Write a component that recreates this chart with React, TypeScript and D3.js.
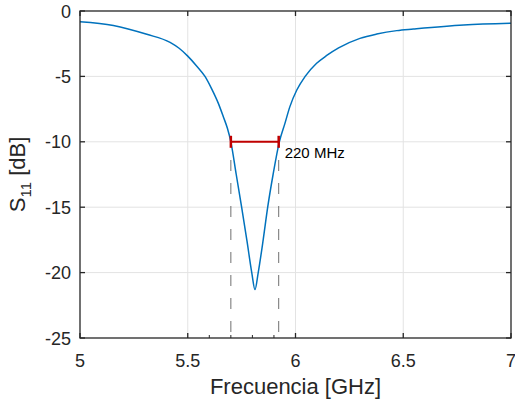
import * as d3 from "d3";

const freq = [
  5.0, 5.155, 5.31, 5.418, 5.46, 5.5, 5.541, 5.58, 5.611, 5.642, 5.665, 5.684,
  5.7, 5.725, 5.75, 5.775, 5.797, 5.812, 5.827, 5.85, 5.871, 5.896, 5.925,
  5.951, 5.974, 6.006, 6.044, 6.098, 6.145, 6.2, 6.299, 6.377, 6.47, 6.547,
  6.78, 7.0,
];
const s11 = [
  -0.82, -1.1, -1.78, -2.4, -2.85, -3.45, -4.2, -5.0, -5.95, -7.06, -8.08,
  -8.97, -10, -12.5, -15, -17.6, -20, -21.3, -20, -17.5, -15, -12.5, -10,
  -8.59, -7.31, -6.04, -5.02, -4.0, -3.4, -2.82, -2.09, -1.76, -1.5, -1.38,
  -1.07, -0.94,
];

const xTicks = [5, 5.5, 6, 6.5, 7];
const xTickLabels = ["5", "5.5", "6", "6.5", "7"];
const xMinor = [5.6, 5.7, 5.8, 5.9];
const yTicks = [0, -5, -10, -15, -20, -25];
const yTickLabels = ["0", "-5", "-10", "-15", "-20", "-25"];

// bandwidth marker at -10 dB
const bwLow = 5.7;
const bwHigh = 5.922;
const bwLevel = -10;
const bwLabel = "220 MHz";

const W = 515;
const H = 402;
const m = { left: 80, right: 4, top: 11, bottom: 64 };

export default function App() {
  const x = d3.scaleLinear().domain([5, 7]).range([m.left, W - m.right]);
  const y = d3.scaleLinear().domain([-25, 0]).range([H - m.bottom, m.top]);
  const x0 = x.range()[0];
  const x1 = x.range()[1];
  const y0 = y.range()[0];
  const y1 = y.range()[1];

  const line = d3
    .line<number>()
    .x((_, i) => x(freq[i]))
    .y((d) => y(d))
    .curve(d3.curveMonotoneX);

  const axisColor = "#262626";
  const font = "'Liberation Sans', Arial, Helvetica, sans-serif";

  return (
    <svg
      width={W}
      height={H}
      style={{ position: "absolute", left: 0, top: 0, background: "#fff" }}
      fontFamily={font}
    >
      {/* grid */}
      {xTicks.slice(1, -1).map((t) => (
        <line key={"gx" + t} x1={x(t)} x2={x(t)} y1={y0} y2={y1} stroke="#e3e3e3" strokeWidth={1} />
      ))}
      {yTicks.slice(1, -1).map((t) => (
        <line key={"gy" + t} x1={x0} x2={x1} y1={y(t)} y2={y(t)} stroke="#e3e3e3" strokeWidth={1} />
      ))}

      {/* dashed bandwidth guides */}
      {[bwLow, bwHigh].map((f) => (
        <line
          key={"d" + f}
          x1={x(f)}
          x2={x(f)}
          y1={160}
          y2={y0}
          stroke="#707070"
          strokeWidth={1}
          strokeDasharray="11,12"
        />
      ))}

      {/* curve */}
      <path d={line(s11) || ""} fill="none" stroke="#0072BD" strokeWidth={1.5} />

      {/* bandwidth bar */}
      <line x1={x(bwLow)} x2={x(bwHigh)} y1={y(bwLevel)} y2={y(bwLevel)} stroke="#C00000" strokeWidth={2} />
      {[bwLow, bwHigh].map((f) => (
        <line
          key={"c" + f}
          x1={x(f)}
          x2={x(f)}
          y1={y(bwLevel) - 6}
          y2={y(bwLevel) + 6}
          stroke="#C00000"
          strokeWidth={2.5}
        />
      ))}
      <text x={x(bwHigh) + 6} y={y(bwLevel) + 16} fontSize={15} fill="#000">
        {bwLabel}
      </text>

      {/* axes box */}
      <rect x={x0} y={y1} width={x1 - x0} height={y0 - y1} fill="none" stroke={axisColor} strokeWidth={1.3} />

      {/* x ticks */}
      {xTicks.map((t, i) => (
        <g key={"xt" + t}>
          <line x1={x(t)} x2={x(t)} y1={y0} y2={y0 - 5} stroke={axisColor} strokeWidth={1.3} />
          <line x1={x(t)} x2={x(t)} y1={y1} y2={y1 + 5} stroke={axisColor} strokeWidth={1.3} />
          <text x={x(t)} y={y0 + 29} fontSize={18} textAnchor="middle" fill={axisColor}>
            {xTickLabels[i]}
          </text>
        </g>
      ))}
      {xMinor.map((t) => (
        <line key={"xm" + t} x1={x(t)} x2={x(t)} y1={y0} y2={y0 - 3} stroke={axisColor} strokeWidth={1} />
      ))}

      {/* y ticks */}
      {yTicks.map((t, i) => (
        <g key={"yt" + t}>
          <line x1={x0} x2={x0 + 5} y1={y(t)} y2={y(t)} stroke={axisColor} strokeWidth={1.3} />
          <line x1={x1} x2={x1 - 5} y1={y(t)} y2={y(t)} stroke={axisColor} strokeWidth={1.3} />
          <text x={x0 - 9} y={y(t) + 6.5} fontSize={18} textAnchor="end" fill={axisColor}>
            {yTickLabels[i]}
          </text>
        </g>
      ))}

      {/* axis labels */}
      <text x={(x0 + x1) / 2} y={394} fontSize={22} textAnchor="middle" fill={axisColor}>
        Frecuencia [GHz]
      </text>
      <text
        transform={`translate(25, ${(y0 + y1) / 2}) rotate(-90)`}
        fontSize={22}
        textAnchor="middle"
        fill={axisColor}
      >
        S<tspan fontSize={15} dy={6}>11</tspan>
        <tspan dy={-6}> [dB]</tspan>
      </text>
    </svg>
  );
}
